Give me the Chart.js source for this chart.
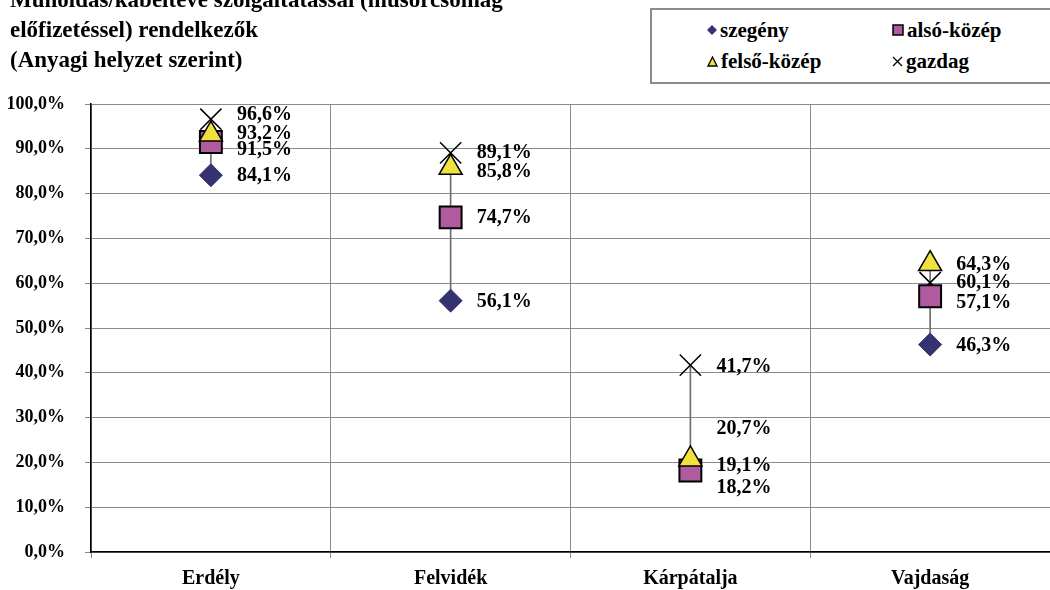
<!DOCTYPE html>
<html>
<head>
<meta charset="utf-8">
<script src="https://cdn.jsdelivr.net/npm/chart.js@4.4.0/dist/chart.umd.min.js"></script>
<style>
body { margin:0; background:#fff; }
#wrap { position:relative; width:1050px; height:590px; overflow:hidden; font-family:"Liberation Serif", "Times New Roman", serif; font-weight:bold; color:#000; }
#cim { position:absolute; left:10px; top:-15px; font-size:23px; line-height:30px; white-space:nowrap; }
#jelmagyarazat { position:absolute; left:650px; top:8px; width:420px; height:72px; border:2px solid #8c8c8c; background:#fff; }
.elem { position:absolute; font-size:21px; line-height:24px; white-space:nowrap; }
.elem svg { vertical-align:middle; margin-right:3px; position:relative; top:-2px; }
canvas { position:absolute; left:0; top:0; }
</style>
</head>
<body>
<div id="wrap">
  <canvas id="chart-muholdas" width="1050" height="590"></canvas>
  <div id="cim">Műholdas/kábeltévé szolgáltatással (műsorcsomag<br>előfizetéssel) rendelkezők<br>(Anyagi helyzet szerint)</div>
  <div id="jelmagyarazat">
    <div class="elem" style="left:55px;top:8px"><svg width="10" height="10"><polygon points="5,0 10,5 5,10 0,5" fill="#34336f"/></svg>szegény</div>
    <div class="elem" style="left:240px;top:8px"><svg width="12" height="12"><rect x="1" y="1" width="10" height="10" fill="#b05aa0" stroke="#000" stroke-width="1.5"/></svg>alsó-közép</div>
    <div class="elem" style="left:55px;top:39px"><svg width="11" height="11"><polygon points="5.5,1 10,10 1,10" fill="#f0e23e" stroke="#000" stroke-width="1.3"/></svg>felső-közép</div>
    <div class="elem" style="left:240px;top:39px"><svg width="11" height="11"><path d="M1,1 L10,10 M10,1 L1,10" stroke="#000" stroke-width="1.3"/></svg>gazdag</div>
  </div>
</div>
<script>
// Adatok — százalékos arányok régiónként
const regiok = ['Erdély', 'Felvidék', 'Kárpátalja', 'Vajdaság'];
const szegeny    = [84.1, 56.1, 19.1, 46.3];
const alsoKozep  = [91.5, 74.7, 18.2, 57.1];
const felsoKozep = [93.2, 85.8, 20.7, 64.3];
const gazdag     = [96.6, 89.1, 41.7, 60.1];

// címkék függőleges eltolása (px), ahol a pontok túl közel vannak
const cimkeEltolas = {
  'szegény':     [1, 1, -1, 1],
  'alsó-közép':  [8, 0, 17, 7],
  'felső-közép': [-1, 4, -30, 1],
  'gazdag':      [-4, 0, 2, 0]
};

const BETU = '"Liberation Serif", "Times New Roman", serif';
const fmt = v => v.toFixed(1).replace('.', ',') + '%';

// min-max vonal régiónként
const sorozatok = [szegeny, alsoKozep, felsoKozep, gazdag];
const tartomany = regiok.map((_, i) => {
  const ertekek = sorozatok.map(s => s[i]);
  return [Math.min(...ertekek), Math.max(...ertekek)];
});

const cimkePlugin = {
  id: 'pontCimkek',
  afterDatasetsDraw(chart) {
    const ctx = chart.ctx;
    ctx.save();
    ctx.font = 'bold 20px ' + BETU;
    ctx.fillStyle = '#000';
    ctx.textAlign = 'left';
    ctx.textBaseline = 'middle';
    chart.data.datasets.forEach((ds, di) => {
      if (ds.type !== 'line') return;
      const meta = chart.getDatasetMeta(di);
      meta.data.forEach((pt, i) => {
        const dy = (cimkeEltolas[ds.label] || [])[i] || 0;
        ctx.fillText(fmt(ds.data[i]), pt.x + 26, pt.y + dy);
      });
    });
    ctx.restore();
  }
};

const pontAlap = { type:'line', showLine:false };

// rajzolási sorrend (alulról felfelé): vonal, gazdag, szegény, alsó-közép, felső-közép
new Chart(document.getElementById('chart-muholdas'), {
  data: {
    labels: regiok,
    datasets: [
      { type:'bar', label:'tartomány', data:tartomany, backgroundColor:'#6e6e6e', barThickness:1, order:6 },
      { ...pontAlap, label:'szegény', data:szegeny, pointStyle:'rectRot', pointRadius:11.5,
        backgroundColor:'#34336f', borderColor:'#34336f', borderWidth:1, order:3 },
      { ...pontAlap, label:'alsó-közép', data:alsoKozep, pointStyle:'rect', pointRadius:15.5,
        backgroundColor:'#b05aa0', borderColor:'#000', borderWidth:2, order:2 },
      { ...pontAlap, label:'felső-közép', data:felsoKozep, pointStyle:'triangle', pointRadius:13.3,
        backgroundColor:'#f0e23e', borderColor:'#000', borderWidth:1.5, order:1 },
      { ...pontAlap, label:'gazdag', data:gazdag, pointStyle:'crossRot', pointRadius:15,
        backgroundColor:'#000', borderColor:'#000', borderWidth:1.5, order:4 }
    ]
  },
  options: {
    responsive:false,
    animation:false,
    layout:{ autoPadding:false, padding:{ top:104, left:0, right:0, bottom:0 } },
    plugins:{ legend:{ display:false }, tooltip:{ enabled:false } },
    scales:{
      x:{
        offset:true,
        grid:{ offset:true, color:'#8a8a8a', lineWidth:1, tickLength:6, tickColor:'#8a8a8a' },
        border:{ color:'#000', width:1.5 },
        ticks:{ color:'#000', font:{ family:BETU, weight:'bold', size:20 }, padding:9, maxRotation:0 },
        afterFit: s => { s.height = 38; }
      },
      y:{
        min:0, max:100,
        grid:{ color:'#8a8a8a', lineWidth:1, tickLength:6, tickColor:'#8a8a8a' },
        border:{ color:'#000', width:1.5 },
        ticks:{ stepSize:10, color:'#000', padding:20, font:{ family:BETU, weight:'bold', size:18 },
          callback: v => fmt(v) },
        afterFit: s => { s.width = 91; }
      }
    }
  },
  plugins:[cimkePlugin]
});
</script>
</body>
</html>
